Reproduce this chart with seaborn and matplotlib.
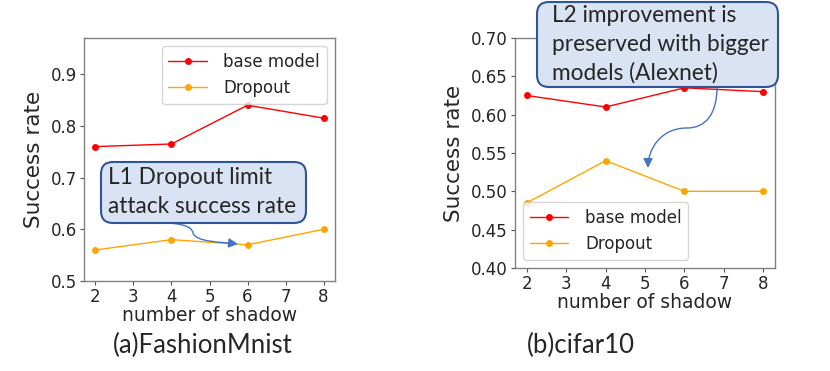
import numpy as np
import pandas as pd
import matplotlib
matplotlib.use('Agg')
import matplotlib.pyplot as plt
import seaborn as sns
from matplotlib.patches import FancyBboxPatch, FancyArrowPatch
from matplotlib.path import Path
from matplotlib.transforms import IdentityTransform

# данные
shadows = [2, 4, 6, 8]
fm_base = [0.76, 0.765, 0.84, 0.815]
fm_drop = [0.56, 0.58, 0.57, 0.60]
cf_base = [0.625, 0.61, 0.635, 0.63]
cf_drop = [0.485, 0.54, 0.50, 0.50]
series_names = ['base model', 'Dropout']
palette = {'base model': 'red', 'Dropout': 'orange'}

sns.set_style('ticks')
plt.rcParams['font.family'] = ['DejaVu Sans']

W, H = 830, 371
fig = plt.figure(figsize=(W / 100, H / 100), dpi=100)

def frac(x0, y0, x1, y1):
    # пиксели картинки -> доли фигуры
    return [x0 / W, 1 - y1 / H, (x1 - x0) / W, (y1 - y0) / H]

ax1 = fig.add_axes(frac(84, 38, 335, 281))
ax2 = fig.add_axes(frac(515, 38, 775, 268))

def make_df(base, drop):
    return pd.DataFrame({
        'shadow': shadows * 2,
        'rate': base + drop,
        'model': [series_names[0]] * len(shadows) + [series_names[1]] * len(shadows),
    })

for ax, base, drop, loc in [(ax1, fm_base, fm_drop, 'upper right'),
                            (ax2, cf_base, cf_drop, 'lower left')]:
    df = make_df(base, drop)
    sns.lineplot(data=df, x='shadow', y='rate', hue='model', palette=palette,
                 marker='o', markersize=5, markeredgewidth=0, linewidth=1, ax=ax)
    ax.set_xlim(1.7, 8.3)
    ax.set_xticks(range(2, 9))
    ax.tick_params(labelsize=12, length=3, width=0.8, color='#555555', pad=2)
    ax.set_xlabel('number of shadow', fontsize=13.5, labelpad=0)
    ax.set_ylabel('Success rate', fontsize=15.5, labelpad=5)
    for s in ax.spines.values():
        s.set_color('#808080')
        s.set_linewidth(1)
    ax.legend(loc=loc, fontsize=12, frameon=True, handlelength=2.3, handletextpad=1.0)

ax1.set_ylim(0.5, 0.97)
ax1.set_yticks([0.5, 0.6, 0.7, 0.8, 0.9])
ax1.set_yticklabels(['0.5', '0.6', '0.7', '0.8', '0.9'])
ax2.set_ylim(0.40, 0.70)
ax2.set_yticks([0.40, 0.45, 0.50, 0.55, 0.60, 0.65, 0.70])
ax2.set_yticklabels(['%.2f' % v for v in ax2.get_yticks()])

# подписи под графиками
cap_font = ['Lato', 'DejaVu Sans']
fig.text(203 / W, 1 - 345 / H, '(a)FashionMnist', ha='center', va='center',
         fontsize=18.5, family=cap_font)
fig.text(581 / W, 1 - 345 / H, '(b)cifar10', ha='center', va='center',
         fontsize=18.5, family=cap_font)

# выноски
tr = IdentityTransform()
box_face = '#dae3f3'
box_edge = '#2f5597'
arrow_col = '#4472c4'

def callout(x0, y0, x1, y1, lines, tx, ty0, dy, fs):
    p = FancyBboxPatch((x0, H - y1), x1 - x0, y1 - y0,
                       boxstyle='round,pad=0,rounding_size=12',
                       transform=tr, facecolor=box_face, edgecolor=box_edge,
                       linewidth=1.5, zorder=10)
    fig.patches.append(p)
    for i, t in enumerate(lines):
        fig.text(tx / W, 1 - (ty0 + i * dy) / H, t, ha='left', va='center',
                 fontsize=fs, family=cap_font, zorder=11)

def curve_arrow(pts):
    verts = [(x, H - y) for x, y in pts]
    codes = [Path.MOVETO] + [Path.CURVE4] * (len(verts) - 1)
    a = FancyArrowPatch(path=Path(verts, codes), arrowstyle='-|>',
                        mutation_scale=14, color=arrow_col, linewidth=1,
                        transform=tr, zorder=9)
    fig.patches.append(a)

callout(101, 162, 306, 223, ['L1 Dropout limit', 'attack success rate'],
        108, 178, 29, 16.3)
curve_arrow([(152, 223), (180, 222), (192, 226), (193, 233),
             (196, 242), (220, 242), (238, 244)])

callout(537, 2, 778, 87, ['L2 improvement is', 'preserved with bigger',
                          'models (Alexnet)'], 552, 16, 28.5, 16.3)
curve_arrow([(717, 87), (717, 115), (705, 128), (687, 128),
             (660, 128), (648, 150), (648, 168)])

fig.savefig('out.png', dpi=100)
